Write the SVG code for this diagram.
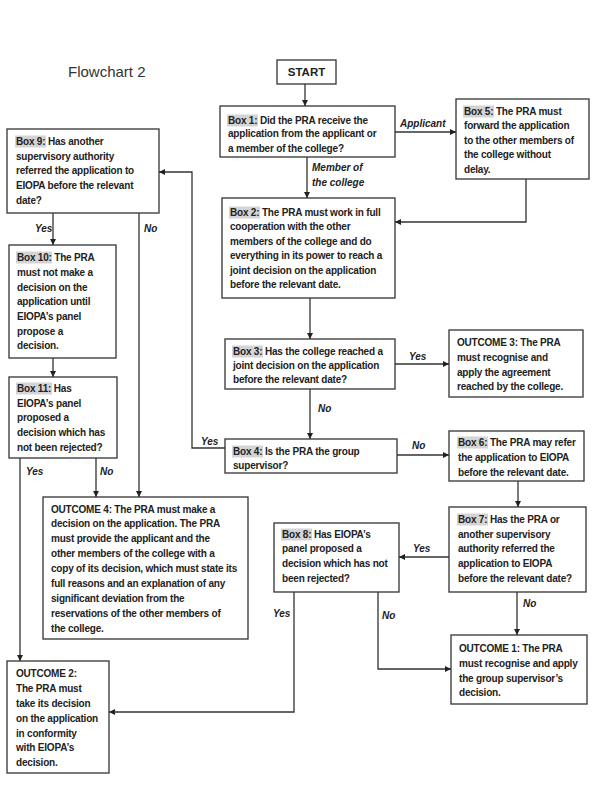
<svg xmlns="http://www.w3.org/2000/svg" width="600" height="811" viewBox="0 0 600 811">
<style>
.box{fill:#fff;stroke:#333;stroke-width:1.3}
.t{font-family:"Liberation Sans",Arial,sans-serif;font-size:10px;font-weight:bold;fill:#222;letter-spacing:-0.2px}
.hl{fill:#d4d4d4}
.lbl{font-family:"Liberation Sans",Arial,sans-serif;font-size:10px;font-weight:bold;font-style:italic;fill:#222}
.c{fill:none;stroke:#333;stroke-width:1.3}
</style>
<defs>
<marker id="ah" markerUnits="userSpaceOnUse" markerWidth="7" markerHeight="7" refX="6" refY="3" orient="auto">
<path d="M0,0 L6,3 L0,6 z" fill="#222"/>
</marker>
</defs>
<rect width="600" height="811" fill="#fff"/>
<text x="68" y="77" font-family="'Liberation Sans',Arial,sans-serif" font-size="15" fill="#333">Flowchart 2</text>

<g id="start"><rect class="box" x="277" y="60" width="59" height="24"/><text x="306.5" y="76" text-anchor="middle" font-family="'Liberation Sans',Arial,sans-serif" font-size="11.5" font-weight="bold" fill="#222">START</text></g>

<g id="box1"><rect class="box" x="220" y="106" width="175" height="51"/><rect class="hl" x="227" y="114.5" width="31" height="12"/>
<text class="t" x="228"><tspan x="228" y="123.5">Box 1: Did the PRA receive the</tspan><tspan x="228" y="137">application from the applicant or</tspan><tspan x="228" y="151.5">a member of the college?</tspan></text></g>

<g id="box5"><rect class="box" x="456" y="99" width="133" height="80"/><rect class="hl" x="463" y="105.5" width="31" height="12"/>
<text class="t"><tspan x="464" y="114.5">Box 5: The PRA must</tspan><tspan x="464" y="129">forward the application</tspan><tspan x="464" y="143.5">to the other members of</tspan><tspan x="464" y="158">the college without</tspan><tspan x="464" y="172.5">delay.</tspan></text></g>

<g id="box2"><rect class="box" x="222" y="198" width="173" height="100"/><rect class="hl" x="229" y="206.5" width="31" height="12"/>
<text class="t"><tspan x="230" y="215.5">Box 2: The PRA must work in full</tspan><tspan x="230" y="230">cooperation with the other</tspan><tspan x="230" y="244.5">members of the college and do</tspan><tspan x="230" y="259">everything in its power to reach a</tspan><tspan x="230" y="273.5">joint decision on the application</tspan><tspan x="230" y="288">before the relevant date.</tspan></text></g>

<g id="box3"><rect class="box" x="225" y="339" width="170" height="50"/><rect class="hl" x="232" y="345.5" width="31" height="12"/>
<text class="t"><tspan x="233" y="354.5">Box 3: Has the college reached a</tspan><tspan x="233" y="369">joint decision on the application</tspan><tspan x="233" y="383">before the relevant date?</tspan></text></g>

<g id="outcome3"><rect class="box" x="449" y="330" width="134" height="67"/>
<text class="t"><tspan x="457" y="345.5">OUTCOME 3: The PRA</tspan><tspan x="457" y="360.5">must recognise and</tspan><tspan x="457" y="375.5">apply the agreement</tspan><tspan x="457" y="390">reached by the college.</tspan></text></g>

<g id="box4"><rect class="box" x="225" y="439" width="172" height="34"/><rect class="hl" x="232" y="445.5" width="31" height="12"/>
<text class="t"><tspan x="233" y="454.5">Box 4: Is the PRA the group</tspan><tspan x="233" y="469">supervisor?</tspan></text></g>

<g id="box6"><rect class="box" x="449" y="431" width="135" height="50"/><rect class="hl" x="457" y="436.5" width="31" height="12"/>
<text class="t"><tspan x="458" y="445.5">Box 6: The PRA may refer</tspan><tspan x="458" y="460.5">the application to EIOPA</tspan><tspan x="458" y="475.5">before the relevant date.</tspan></text></g>

<g id="box7"><rect class="box" x="449" y="507" width="137" height="85"/><rect class="hl" x="457" y="513.5" width="31" height="12"/>
<text class="t"><tspan x="458" y="522.5">Box 7: Has the PRA or</tspan><tspan x="458" y="537.5">another supervisory</tspan><tspan x="458" y="551.5">authority referred the</tspan><tspan x="458" y="566.5">application to EIOPA</tspan><tspan x="458" y="581.5">before the relevant date?</tspan></text></g>

<g id="box8"><rect class="box" x="274" y="523" width="125" height="69"/><rect class="hl" x="281" y="528.5" width="31" height="12"/>
<text class="t"><tspan x="282" y="537.5">Box 8: Has EIOPA’s</tspan><tspan x="282" y="551.5">panel proposed a</tspan><tspan x="282" y="566.5">decision which has not</tspan><tspan x="282" y="581.5">been rejected?</tspan></text></g>

<g id="outcome1"><rect class="box" x="451" y="635" width="136" height="69"/>
<text class="t"><tspan x="459" y="651.5">OUTCOME 1: The PRA</tspan><tspan x="459" y="666.5">must recognise and apply</tspan><tspan x="459" y="681.5">the group supervisor’s</tspan><tspan x="459" y="695.5">decision.</tspan></text></g>

<g id="box9"><rect class="box" x="7" y="129" width="152" height="84"/><rect class="hl" x="15" y="135.5" width="31" height="12"/>
<text class="t"><tspan x="16" y="144.5">Box 9: Has another</tspan><tspan x="16" y="159.5">supervisory authority</tspan><tspan x="16" y="173.5">referred the application to</tspan><tspan x="16" y="189">EIOPA before the relevant</tspan><tspan x="16" y="203.5">date?</tspan></text></g>

<g id="box10"><rect class="box" x="9" y="245" width="107" height="113"/><rect class="hl" x="16" y="251.5" width="36" height="12"/>
<text class="t"><tspan x="17" y="260.5">Box 10: The PRA</tspan><tspan x="17" y="275.5">must not make a</tspan><tspan x="17" y="290.5">decision on the</tspan><tspan x="17" y="304.5">application until</tspan><tspan x="17" y="319.5">EIOPA’s panel</tspan><tspan x="17" y="334.5">propose a</tspan><tspan x="17" y="348.5">decision.</tspan></text></g>

<g id="box11"><rect class="box" x="9" y="377" width="108" height="81"/><rect class="hl" x="16" y="382.5" width="36" height="12"/>
<text class="t"><tspan x="17" y="391.5">Box 11: Has</tspan><tspan x="17" y="406.5">EIOPA’s panel</tspan><tspan x="17" y="420.5">proposed a</tspan><tspan x="17" y="435.5">decision which has</tspan><tspan x="17" y="450.5">not been rejected?</tspan></text></g>

<g id="outcome4"><rect class="box" x="43" y="497" width="205" height="142"/>
<text class="t"><tspan x="51" y="512.5">OUTCOME 4: The PRA must make a</tspan><tspan x="51" y="526.5">decision on the application. The PRA</tspan><tspan x="51" y="541.5">must provide the applicant and the</tspan><tspan x="51" y="556.5">other members of the college with a</tspan><tspan x="51" y="571.5">copy of its decision, which must state its</tspan><tspan x="51" y="586.5">full reasons and an explanation of any</tspan><tspan x="51" y="601.5">significant deviation from the</tspan><tspan x="51" y="616.5">reservations of the other members of</tspan><tspan x="51" y="631.5">the college.</tspan></text></g>

<g id="outcome2"><rect class="box" x="7" y="661" width="102" height="112"/>
<text class="t"><tspan x="16" y="676.5">OUTCOME 2:</tspan><tspan x="16" y="691.5">The PRA must</tspan><tspan x="16" y="706.5">take its decision</tspan><tspan x="16" y="721.5">on the application</tspan><tspan x="16" y="736.5">in conformity</tspan><tspan x="16" y="750.5">with EIOPA’s</tspan><tspan x="16" y="765.5">decision.</tspan></text></g>

<g id="connectors">
<path class="c" d="M305,84 V106" marker-end="url(#ah)"/>
<path class="c" d="M395,132 H456" marker-end="url(#ah)"/>
<path class="c" d="M307,157 V198" marker-end="url(#ah)"/>
<path class="c" d="M526,179 V222 H395" marker-end="url(#ah)"/>
<path class="c" d="M310,298 V339" marker-end="url(#ah)"/>
<path class="c" d="M395,364 H449" marker-end="url(#ah)"/>
<path class="c" d="M310,389 V439" marker-end="url(#ah)"/>
<path class="c" d="M225,448 H192 V172 H159" marker-end="url(#ah)"/>
<path class="c" d="M397,455 H449" marker-end="url(#ah)"/>
<path class="c" d="M518,481 V507" marker-end="url(#ah)"/>
<path class="c" d="M449,557 H399" marker-end="url(#ah)"/>
<path class="c" d="M517,592 V635" marker-end="url(#ah)"/>
<path class="c" d="M378,592 V669 H451" marker-end="url(#ah)"/>
<path class="c" d="M294,592 V712 H109" marker-end="url(#ah)"/>
<path class="c" d="M53,213 V245" marker-end="url(#ah)"/>
<path class="c" d="M139,213 V497" marker-end="url(#ah)"/>
<path class="c" d="M53,358 V377" marker-end="url(#ah)"/>
<path class="c" d="M20,458 V661" marker-end="url(#ah)"/>
<path class="c" d="M96,458 V497" marker-end="url(#ah)"/>
<text class="lbl" x="400" y="126.5">Applicant</text>
<text class="lbl" x="312" y="170.5">Member of</text>
<text class="lbl" x="312" y="185.5">the college</text>
<text class="lbl" x="409" y="359.5">Yes</text>
<text class="lbl" x="318" y="411.5">No</text>
<text class="lbl" x="201" y="444.5">Yes</text>
<text class="lbl" x="412" y="449">No</text>
<text class="lbl" x="413" y="551.5">Yes</text>
<text class="lbl" x="523" y="606.5">No</text>
<text class="lbl" x="382" y="618.5">No</text>
<text class="lbl" x="273" y="616.5">Yes</text>
<text class="lbl" x="35" y="231.5">Yes</text>
<text class="lbl" x="144" y="231.5">No</text>
<text class="lbl" x="26" y="474.5">Yes</text>
<text class="lbl" x="100" y="474.5">No</text>
</g>
</svg>
